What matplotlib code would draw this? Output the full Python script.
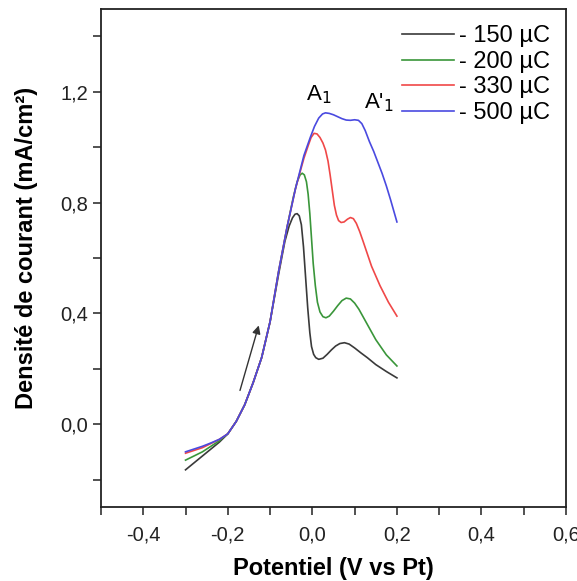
import matplotlib
matplotlib.use("Agg")
import matplotlib.pyplot as plt
from matplotlib.ticker import MultipleLocator, FuncFormatter

plt.rcParams['font.family'] = ['Liberation Sans', 'DejaVu Sans']

labels = ['- 150 µC', '- 200 µC', '- 330 µC', '- 500 µC']
colors = ['#3a3a3a', '#3a963a', '#f04848', '#4a4ae0']

x_150 = [-0.30, -0.28, -0.26, -0.24, -0.22, -0.20, -0.18, -0.16, -0.14, -0.12, -0.10, -0.08, -0.065,
         -0.055, -0.047, -0.041, -0.036, -0.031, -0.026, -0.021, -0.016, -0.011, -0.006, -0.002, 0.003,
         0.008, 0.015, 0.025, 0.035, 0.045, 0.055, 0.065, 0.076, 0.087, 0.1, 0.115, 0.13, 0.15, 0.175, 0.20]
y_150 = [-0.165, -0.14, -0.115, -0.09, -0.065, -0.035, 0.01, 0.07, 0.15, 0.24, 0.37, 0.54, 0.66,
         0.715, 0.745, 0.758, 0.76, 0.752, 0.72, 0.64, 0.53, 0.42, 0.33, 0.28, 0.252,
         0.24, 0.234, 0.238, 0.252, 0.268, 0.282, 0.291, 0.294, 0.289, 0.275, 0.257, 0.24, 0.215, 0.19, 0.167]

x_200 = [-0.30, -0.28, -0.26, -0.24, -0.22, -0.20, -0.18, -0.16, -0.14, -0.12, -0.10, -0.08, -0.06,
         -0.045, -0.036, -0.029, -0.024, -0.019, -0.014, -0.01, -0.006, -0.002, 0.002, 0.007, 0.012,
         0.018, 0.025, 0.032, 0.04, 0.05, 0.06, 0.07, 0.08, 0.09, 0.1, 0.11, 0.13, 0.15, 0.175, 0.20]
y_200 = [-0.13, -0.115, -0.10, -0.08, -0.06, -0.035, 0.01, 0.07, 0.15, 0.24, 0.37, 0.55, 0.71,
         0.82, 0.875, 0.9, 0.906, 0.9, 0.875, 0.83, 0.76, 0.67, 0.58, 0.5, 0.44,
         0.405, 0.388, 0.384, 0.39, 0.408, 0.428, 0.446, 0.455, 0.452, 0.437, 0.415, 0.36, 0.305, 0.25, 0.21]

x_330 = [-0.30, -0.28, -0.26, -0.24, -0.22, -0.20, -0.18, -0.16, -0.14, -0.12, -0.10, -0.08, -0.06,
         -0.04, -0.02, -0.01, -0.003, 0.004, 0.011, 0.018, 0.025, 0.031, 0.037, 0.042, 0.047,
         0.052, 0.057, 0.062, 0.068, 0.075, 0.083, 0.09, 0.097, 0.104, 0.112, 0.12, 0.14, 0.16, 0.18, 0.20]
y_330 = [-0.105, -0.095, -0.085, -0.07, -0.055, -0.035, 0.01, 0.07, 0.15, 0.24, 0.37, 0.55, 0.71,
         0.85, 0.96, 1.005, 1.035, 1.05, 1.048, 1.035, 1.015, 0.99, 0.95, 0.9, 0.845,
         0.79, 0.755, 0.735, 0.728, 0.73, 0.74, 0.746, 0.742, 0.725, 0.695, 0.66, 0.57, 0.50, 0.44, 0.39]

x_500 = [-0.30, -0.28, -0.26, -0.24, -0.22, -0.20, -0.18, -0.16, -0.14, -0.12, -0.10, -0.08, -0.06,
         -0.04, -0.02, -0.005, 0.005, 0.015, 0.024, 0.031, 0.04, 0.05, 0.06, 0.07, 0.08, 0.09,
         0.1, 0.109, 0.117, 0.125, 0.135, 0.145, 0.155, 0.165, 0.175, 0.185, 0.20]
y_500 = [-0.10, -0.09, -0.08, -0.068, -0.055, -0.035, 0.01, 0.07, 0.15, 0.24, 0.37, 0.55, 0.71,
         0.85, 0.97, 1.035, 1.075, 1.105, 1.12, 1.124, 1.122, 1.117, 1.11, 1.103, 1.098, 1.097,
         1.099, 1.097, 1.085, 1.06, 1.02, 0.985, 0.945, 0.905, 0.86, 0.81, 0.73]

series_x = [x_150, x_200, x_330, x_500]
series_y = [y_150, y_200, y_330, y_500]

fig = plt.figure(figsize=(5.77, 5.81), dpi=100)
ax = fig.add_axes([0.175, 0.127, 0.806, 0.858])

for xs, ys, c, lab in zip(series_x, series_y, colors, labels):
    ax.plot(xs, ys, color=c, lw=1.2, label=lab)

ax.set_xlim(-0.5, 0.6)
ax.set_ylim(-0.3, 1.5)
ax.xaxis.set_major_locator(MultipleLocator(0.2))
ax.xaxis.set_minor_locator(MultipleLocator(0.1))
ax.yaxis.set_major_locator(MultipleLocator(0.4))
ax.yaxis.set_minor_locator(MultipleLocator(0.2))
fmt = FuncFormatter(lambda v, p: ('%.1f' % v).replace('.', ',').replace('-0,0', '0,0'))
ax.xaxis.set_major_formatter(fmt)
ax.yaxis.set_major_formatter(fmt)
ax.tick_params(which='both', direction='out', length=6, width=1.1, labelsize=14.5, colors='#222222')
ax.tick_params(axis='x', which='major', pad=7)
for s in ax.spines.values():
    s.set_linewidth(1.3)
    s.set_color('#222222')

ax.set_xlabel('Potentiel (V vs Pt)', fontsize=17, fontweight='bold', labelpad=9)
ax.set_ylabel('Densité de courant (mA/cm²)', fontsize=17, fontweight='bold')
ax.yaxis.set_label_coords(-0.136, 0.52)

ax.annotate('', xy=(-0.125, 0.366), xytext=(-0.173, 0.112),
            arrowprops=dict(arrowstyle='-|>', color='#333333', lw=1.0, mutation_scale=12))

ax.text(0.016, 1.19, 'A$_1$', fontsize=16, ha='center', va='center')
ax.text(0.158, 1.16, "A'$_1$", fontsize=16, ha='center', va='center')

leg = ax.legend(loc='upper right', frameon=False, fontsize=17, handlelength=2.2,
                labelspacing=0.15, borderaxespad=0.3, handletextpad=0.2)

fig.savefig('out.png', dpi=100)
